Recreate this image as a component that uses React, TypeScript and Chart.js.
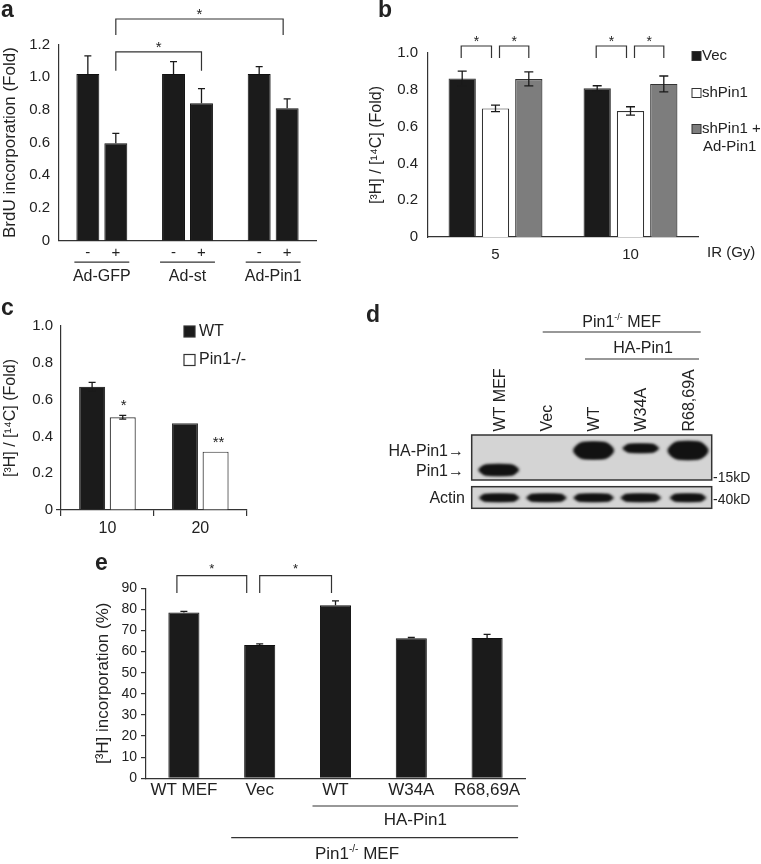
import React, { useEffect, useRef } from "react";
import { Chart, registerables } from "chart.js";
Chart.register(...registerables);

const FONT = "'Liberation Sans', Arial, Helvetica, sans-serif";
const INK = "#222222";
const AXIS = "#333333";
const BLACK = "#1b1b1b";
const GRAY = "#7d7d7d";
const WHITE = "#ffffff";

// ---------- Panel a ----------
const aGroups = ["Ad-GFP", "Ad-st", "Ad-Pin1"];
const aSeriesNames = ["-", "+"];
const aMinus = [1.02, 1.02, 1.02];
const aMinusErr = [0.11, 0.075, 0.045];
const aPlus = [0.596, 0.84, 0.81];
const aPlusErr = [0.06, 0.09, 0.057];

// ---------- Panel b ----------
const bDoses = ["5", "10"];
const bSeries = ["Vec", "shPin1", "shPin1 + Ad-Pin1"];
const bVec = [0.862, 0.808];
const bVecErr = [0.04, 0.014];
const bSh = [0.699, 0.685];
const bShErr = [0.018, 0.023];
const bRes = [0.859, 0.832];
const bResErr = [0.038, 0.043];

// ---------- Panel c ----------
const cDoses = ["10", "20"];
const cSeries = ["WT", "Pin1-/-"];
const cWT = [0.67, 0.471];
const cWTErr = [0.024, 0];
const cKO = [0.504, 0.317];
const cKOErr = [0.01, 0];
const cStars = ["*", "**"];

// ---------- Panel d (blot) ----------
const dLanes = ["WT MEF", "Vec", "WT", "W34A", "R68,69A"];
const dHABand = [0, 0, 1, 0.5, 1.04];
const dPin1Band = [1, 0, 0, 0, 0];
const dActinBand = [1, 1, 1, 1, 0.9];

// ---------- Panel e ----------
const eCats = ["WT MEF", "Vec", "WT", "W34A", "R68,69A"];
const eVals = [78.5, 63.1, 82.0, 66.3, 66.4];
const eErr = [0.6, 0.6, 2.0, 0.4, 1.8];

// ---------- helpers ----------
function txt(ctx: any, s: string, x: number, y: number, font: string, align = "left", base = "alphabetic") {
  ctx.save();
  ctx.font = font;
  ctx.fillStyle = INK;
  ctx.textAlign = align;
  ctx.textBaseline = base;
  ctx.fillText(s, x, y);
  ctx.restore();
}

function hline(ctx: any, x1: number, x2: number, y: number, w = 1.2) {
  ctx.save();
  ctx.strokeStyle = AXIS;
  ctx.lineWidth = w;
  ctx.beginPath();
  ctx.moveTo(x1, y);
  ctx.lineTo(x2, y);
  ctx.stroke();
  ctx.restore();
}

function drawErrors(chart: any, ds: number, vals: number[], errs: number[], both: boolean, cap: number) {
  const ctx = chart.ctx;
  const ys = chart.scales.y;
  const meta = chart.getDatasetMeta(ds);
  ctx.save();
  ctx.strokeStyle = "#1a1a1a";
  ctx.lineWidth = 1.3;
  vals.forEach((v, i) => {
    const e = errs[i];
    if (!e) return;
    const el = meta.data[i];
    const x = el.x;
    const yt = ys.getPixelForValue(v + e);
    const yb = both ? ys.getPixelForValue(v - e) : el.y;
    ctx.beginPath();
    ctx.moveTo(x, yb);
    ctx.lineTo(x, yt);
    ctx.moveTo(x - cap, yt);
    ctx.lineTo(x + cap, yt);
    if (both) {
      ctx.moveTo(x - cap, yb);
      ctx.lineTo(x + cap, yb);
    }
    ctx.stroke();
  });
  ctx.restore();
}

function bracket(ctx: any, x1: number, x2: number, yTop: number, yLeg: number, star: string, starFont: string, starDy: number) {
  ctx.save();
  ctx.strokeStyle = AXIS;
  ctx.lineWidth = 1.2;
  ctx.beginPath();
  ctx.moveTo(x1, yLeg);
  ctx.lineTo(x1, yTop);
  ctx.lineTo(x2, yTop);
  ctx.lineTo(x2, yLeg);
  ctx.stroke();
  ctx.restore();
  txt(ctx, star, (x1 + x2) / 2, yTop - starDy, starFont, "center", "alphabetic");
}

function barX(chart: any, ds: number, i: number) {
  return chart.getDatasetMeta(ds).data[i].x;
}

function yAxis(min: number, max: number, step: number, size: number, title: string, titleSize: number, titlePad: number, width: number, pad: number, fmt: (v: number) => string, grid: any) {
  return {
    min,
    max,
    ticks: { stepSize: step, color: INK, font: { family: FONT, size }, padding: pad, callback: (v: any) => fmt(Number(v)) },
    grid,
    border: { display: true, color: AXIS, width: 1.2 },
    title: { display: true, text: title, color: INK, font: { family: FONT, size: titleSize }, padding: { top: titlePad, bottom: 0 } },
    afterFit: (s: any) => {
      s.width = width;
    },
  };
}

function xAxis(size: number, pad: number, height: number, grid: any) {
  return {
    ticks: { color: INK, font: { family: FONT, size }, padding: pad, maxRotation: 0, autoSkip: false },
    grid,
    border: { display: true, color: AXIS, width: 1.2 },
    afterFit: (s: any) => {
      s.height = height;
    },
  };
}

const noGrid = { display: false, drawTicks: false };
const fmt1 = (v: number) => (Math.abs(v) < 1e-9 ? "0" : v.toFixed(1));
const fmt0 = (v: number) => String(Math.round(v));

function baseOptions(padding: any, scales: any) {
  return {
    responsive: false,
    animation: false,
    devicePixelRatio: 1,
    layout: { padding },
    plugins: { legend: { display: false }, tooltip: { enabled: false } },
    scales,
  };
}

// ---------- chart configs ----------
function makeA() {
  const OX = 0, OY = 0;
  const plugin = {
    id: "annoA",
    afterDatasetsDraw(chart: any) {
      const ctx = chart.ctx;
      const ys = chart.scales.y;
      const bottom = chart.chartArea.bottom;
      drawErrors(chart, 0, aMinus, aMinusErr, false, 3.5);
      drawErrors(chart, 1, aPlus, aPlusErr, false, 3.5);
      const m0 = chart.getDatasetMeta(0);
      const m1 = chart.getDatasetMeta(1);
      aGroups.forEach((_, i) => {
        txt(ctx, aSeriesNames[0], m0.data[i].x, bottom + 16, `15px ${FONT}`, "center");
        txt(ctx, aSeriesNames[1], m1.data[i].x, bottom + 16, `15px ${FONT}`, "center");
        hline(ctx, m0.data[i].x - m0.data[i].width / 2 - 2, m1.data[i].x + m1.data[i].width / 2 + 2, bottom + 21.5);
      });
      bracket(ctx, barX(chart, 1, 0), barX(chart, 1, 2) - 4, ys.getPixelForValue(1.356), ys.getPixelForValue(1.258), "*", `15px ${FONT}`, 0);
      bracket(ctx, barX(chart, 1, 0), barX(chart, 1, 1), ys.getPixelForValue(1.155), ys.getPixelForValue(1.04), "*", `15px ${FONT}`, 0);
      txt(ctx, "a", 1 - OX, 17 - OY, `bold 23px ${FONT}`);
    },
  };
  return {
    type: "bar",
    data: {
      labels: aGroups,
      datasets: [
        { label: aSeriesNames[0], data: aMinus, backgroundColor: BLACK, borderColor: "#111", borderWidth: 1, categoryPercentage: 0.653, barPercentage: 0.82 },
        { label: aSeriesNames[1], data: aPlus, backgroundColor: BLACK, borderColor: "#111", borderWidth: 1, categoryPercentage: 0.653, barPercentage: 0.82 },
      ],
    },
    options: baseOptions(
      { top: 44.5, right: 64, left: 0, bottom: 0 },
      {
        x: xAxis(16, 26, 59.3, noGrid),
        y: yAxis(0, 1.2, 0.2, 15, "BrdU incorporation (Fold)", 17, 0, 59, 9, fmt1, noGrid),
      }
    ),
    plugins: [plugin],
  };
}

function makeB() {
  const OX = 366, OY = 0;
  const plugin = {
    id: "annoB",
    afterDatasetsDraw(chart: any) {
      const ctx = chart.ctx;
      const ys = chart.scales.y;
      drawErrors(chart, 0, bVec, bVecErr, true, 4.5);
      drawErrors(chart, 1, bSh, bShErr, true, 4.5);
      drawErrors(chart, 2, bRes, bResErr, true, 4.5);
      const yT = ys.getPixelForValue(1.038);
      const yL = ys.getPixelForValue(0.973);
      bDoses.forEach((_, i) => {
        bracket(ctx, barX(chart, 0, i) - 1, barX(chart, 1, i) - 4, yT, yL, "*", `14px ${FONT}`, 0);
        bracket(ctx, barX(chart, 1, i) + 4, barX(chart, 2, i), yT, yL, "*", `14px ${FONT}`, 0);
      });
      // legend
      const ds = chart.data.datasets;
      const legY = [56, 93, 129];
      ds.forEach((d: any, i: number) => {
        const x = 692 - OX;
        const y = legY[i] - OY;
        ctx.save();
        ctx.fillStyle = d.backgroundColor;
        ctx.strokeStyle = AXIS;
        ctx.lineWidth = 1;
        ctx.fillRect(x, y - 4.5, 9, 9);
        ctx.strokeRect(x, y - 4.5, 9, 9);
        ctx.restore();
      });
      txt(ctx, "Vec", 702 - OX, 56 - OY, `15px ${FONT}`, "left", "middle");
      txt(ctx, "shPin1", 702 - OX, 93 - OY, `15px ${FONT}`, "left", "middle");
      txt(ctx, "shPin1 +", 702 - OX, 129 - OY, `15px ${FONT}`, "left", "middle");
      txt(ctx, "Ad-Pin1", 703 - OX, 147 - OY, `15px ${FONT}`, "left", "middle");
      txt(ctx, "IR (Gy)", 707 - OX, 253 - OY, `15px ${FONT}`, "left", "middle");
      txt(ctx, "b", 378 - OX, 17 - OY, `bold 23px ${FONT}`);
    },
  };
  const common = { borderColor: AXIS, borderWidth: 1.2, categoryPercentage: 0.74, barPercentage: 0.82 };
  return {
    type: "bar",
    data: {
      labels: bDoses,
      datasets: [
        { label: bSeries[0], data: bVec, backgroundColor: BLACK, ...common },
        { label: bSeries[1], data: bSh, backgroundColor: WHITE, ...common },
        { label: bSeries[2], data: bRes, backgroundColor: GRAY, ...common },
      ],
    },
    options: baseOptions(
      { top: 53, right: 63, left: 0, bottom: 0 },
      {
        x: xAxis(15, 9, 63, noGrid),
        y: yAxis(0, 1.0, 0.2, 15, "[³H] / [¹⁴C] (Fold)", 16, 1, 62, 10, fmt1, noGrid),
      }
    ),
    plugins: [plugin],
  };
}

function makeC() {
  const OX = 0, OY = 300;
  const plugin = {
    id: "annoC",
    afterDatasetsDraw(chart: any) {
      const ctx = chart.ctx;
      const ys = chart.scales.y;
      drawErrors(chart, 0, cWT, cWTErr, true, 3.5);
      drawErrors(chart, 1, cKO, cKOErr, true, 3.5);
      cStars.forEach((s, i) => {
        const y = ys.getPixelForValue(cKO[i] + cKOErr[i]) - 5;
        txt(ctx, s, barX(chart, 1, i) + (i === 1 ? 3 : 1), y, `15px ${FONT}`, "center");
      });
      const ds = chart.data.datasets;
      const legY = [331.5, 360];
      ds.forEach((d: any, i: number) => {
        const x = 184 - OX;
        const y = legY[i] - OY;
        ctx.save();
        ctx.fillStyle = d.backgroundColor;
        ctx.strokeStyle = AXIS;
        ctx.lineWidth = 1.2;
        ctx.fillRect(x, y - 5.5, 11, 11);
        ctx.strokeRect(x, y - 5.5, 11, 11);
        ctx.restore();
        txt(ctx, cSeries[i], 199 - OX, y, `16px ${FONT}`, "left", "middle");
      });
      txt(ctx, "c", 1 - OX, 315 - OY, `bold 23px ${FONT}`);
    },
  };
  const common = { borderColor: AXIS, borderWidth: 1.2, categoryPercentage: 0.66, barPercentage: 0.85 };
  return {
    type: "bar",
    data: {
      labels: cDoses,
      datasets: [
        { label: cSeries[0], data: cWT, backgroundColor: BLACK, ...common },
        { label: cSeries[1], data: cKO, backgroundColor: WHITE, ...common },
      ],
    },
    options: baseOptions(
      { top: 26, right: 53.3, left: 0, bottom: 0 },
      {
        x: xAxis(16, 3, 40, { display: true, drawOnChartArea: false, drawTicks: true, tickLength: 6, color: AXIS, lineWidth: 1.2, offset: true }),
        y: yAxis(0, 1.0, 0.2, 15, "[³H] / [¹⁴C] (Fold)", 16, 1.4, 61, 3, fmt1, {
          display: true,
          drawOnChartArea: false,
          drawTicks: true,
          tickLength: 5,
          lineWidth: 1.2,
          color: (c: any) => (c.tick && c.tick.value === 0 ? AXIS : "rgba(0,0,0,0)"),
        }),
      }
    ),
    plugins: [plugin],
  };
}

function makeE() {
  const OX = 90, OY = 545;
  const plugin = {
    id: "annoE",
    afterDatasetsDraw(chart: any) {
      const ctx = chart.ctx;
      const ys = chart.scales.y;
      drawErrors(chart, 0, eVals, eErr, false, 3.5);
      const yT = ys.getPixelForValue(96);
      const yL = ys.getPixelForValue(87.8);
      bracket(ctx, barX(chart, 0, 0) - 7, barX(chart, 0, 1) - 13, yT, yL, "*", `13px ${FONT}`, 3);
      bracket(ctx, barX(chart, 0, 1), barX(chart, 0, 2) - 4, yT, yL, "*", `13px ${FONT}`, 3);
      const x2 = barX(chart, 0, 2);
      const x4 = barX(chart, 0, 4);
      const x1 = barX(chart, 0, 1);
      hline(ctx, x2 - 23, x4 + 31, 806 - OY);
      txt(ctx, "HA-Pin1", (x2 - 23 + x4 + 31) / 2, 820 - OY, `17px ${FONT}`, "center", "middle");
      hline(ctx, x1 - 28.5, x4 + 31, 837.7 - OY);
      // Pin1-/- MEF with superscript
      ctx.save();
      const big = `17px ${FONT}`;
      const small = `10px ${FONT}`;
      ctx.font = big;
      const w1 = ctx.measureText("Pin1").width;
      const w3 = ctx.measureText(" MEF").width;
      ctx.font = small;
      const w2 = ctx.measureText("-/-").width;
      ctx.restore();
      const total = w1 + w2 + w3;
      const sx = 357 - OX - total / 2;
      const by = 859 - OY;
      txt(ctx, "Pin1", sx, by, big);
      txt(ctx, "-/-", sx + w1, by - 7, small);
      txt(ctx, " MEF", sx + w1 + w2, by, big);
      txt(ctx, "e", 95 - OX, 570 - OY, `bold 23px ${FONT}`);
    },
  };
  return {
    type: "bar",
    data: {
      labels: eCats,
      datasets: [{ label: "[3H] incorporation", data: eVals, backgroundColor: BLACK, borderColor: "#111", borderWidth: 1, categoryPercentage: 0.5, barPercentage: 0.82 }],
    },
    options: baseOptions(
      { top: 43.3, right: 36, left: 0, bottom: 0 },
      {
        x: xAxis(17, 2, 85.7, noGrid),
        y: yAxis(0, 90, 10, 14, "[³H] incorporation (%)", 17, 3, 56, 4, fmt0, {
          display: true,
          drawOnChartArea: false,
          drawTicks: true,
          tickLength: 5,
          lineWidth: 1.2,
          color: AXIS,
        }),
      }
    ),
    plugins: [plugin],
  };
}

function ChartBox({ left, top, width, height, make }: any) {
  const ref = useRef<HTMLCanvasElement>(null);
  useEffect(() => {
    const chart = new Chart(ref.current as HTMLCanvasElement, make());
    return () => chart.destroy();
  }, []);
  return <canvas ref={ref} width={width} height={height} style={{ position: "absolute", left, top, width, height }} />;
}

function Blot() {
  const ref = useRef<HTMLCanvasElement>(null);
  const L = 360, T = 300, W = 401, H = 220;
  useEffect(() => {
    const cv = ref.current as HTMLCanvasElement;
    const ctx = cv.getContext("2d") as any;
    ctx.clearRect(0, 0, W, H);
    ctx.save();
    ctx.translate(-L, -T);
    const f16 = `16px ${FONT}`;
    // panel letter
    txt(ctx, "d", 366, 322, `bold 23px ${FONT}`);
    // header
    const big = f16, small = `9px ${FONT}`;
    ctx.font = big;
    const w1 = ctx.measureText("Pin1").width;
    const w3 = ctx.measureText(" MEF").width;
    ctx.font = small;
    const w2 = ctx.measureText("-/-").width;
    const sx = 621.7 - (w1 + w2 + w3) / 2;
    txt(ctx, "Pin1", sx, 327, big);
    txt(ctx, "-/-", sx + w1, 320, small);
    txt(ctx, " MEF", sx + w1 + w2, 327, big);
    hline(ctx, 542.7, 700.7, 332);
    txt(ctx, "HA-Pin1", 643, 348.5, f16, "center", "middle");
    hline(ctx, 585, 699, 359);
    // lanes
    const boxL = 471.7, boxR = 711.7;
    const laneX = dLanes.map((_, i) => boxL + 27 + 47.2 * i);
    dLanes.forEach((name, i) => {
      ctx.save();
      ctx.translate(laneX[i] + 6, 431.5);
      ctx.rotate(-Math.PI / 2);
      ctx.font = f16;
      ctx.fillStyle = INK;
      ctx.textAlign = "left";
      ctx.textBaseline = "alphabetic";
      ctx.fillText(name, 0, 0);
      ctx.restore();
    });
    // boxes
    ctx.save();
    ctx.fillStyle = "#d4d4d4";
    ctx.fillRect(boxL, 435, boxR - boxL, 45);
    ctx.fillRect(boxL, 486.7, boxR - boxL, 21.6);
    ctx.restore();
    // bands
    const band = (cx: number, w: number, cy: number, h: number) => {
      ctx.save();
      ctx.filter = "blur(1.6px)";
      ctx.fillStyle = "#121212";
      ctx.beginPath();
      ctx.ellipse(cx, cy, w / 2, h / 2, 0, 0, Math.PI * 2);
      ctx.fill();
      ctx.beginPath();
      const r = Math.min(h / 2, 8);
      ctx.roundRect(cx - w / 2 + 3, cy - h / 2, w - 6, h, r);
      ctx.fill();
      ctx.restore();
    };
    dHABand.forEach((v, i) => {
      if (v > 0) band(laneX[i] + 0.5, 41 * Math.min(1, 0.8 + v * 0.2), 450.5 - (v < 0.8 ? 2.2 : 0), 17.2 * v);
    });
    dPin1Band.forEach((v, i) => {
      if (v > 0) band(laneX[i], 41 * v, 470, 11 * v);
    });
    dActinBand.forEach((v, i) => {
      if (v > 0) band(laneX[i] + 0.5, 41 * v, 497.8, 7.5);
    });
    ctx.save();
    ctx.strokeStyle = "#333";
    ctx.lineWidth = 1.5;
    ctx.strokeRect(boxL, 435, boxR - boxL, 45);
    ctx.strokeRect(boxL, 486.7, boxR - boxL, 21.6);
    ctx.restore();
    // side labels
    txt(ctx, "HA-Pin1→", 464, 452, f16, "right", "middle");
    txt(ctx, "Pin1→", 464, 472, f16, "right", "middle");
    txt(ctx, "Actin", 465, 499, f16, "right", "middle");
    txt(ctx, "-15kD", 713, 478.5, `14px ${FONT}`, "left", "middle");
    txt(ctx, "-40kD", 713, 500, `14px ${FONT}`, "left", "middle");
    ctx.restore();
  }, []);
  return <canvas ref={ref} width={W} height={H} style={{ position: "absolute", left: L, top: T, width: W, height: H }} />;
}

export default function App() {
  return (
    <div style={{ position: "absolute", left: 0, top: 0, width: 761, height: 864, background: "#fff", overflow: "hidden" }}>
      <ChartBox left={0} top={0} width={380} height={300} make={makeA} />
      <ChartBox left={366} top={0} width={395} height={300} make={makeB} />
      <ChartBox left={0} top={300} width={300} height={250} make={makeC} />
      <Blot />
      <ChartBox left={90} top={545} width={471} height={319} make={makeE} />
    </div>
  );
}
